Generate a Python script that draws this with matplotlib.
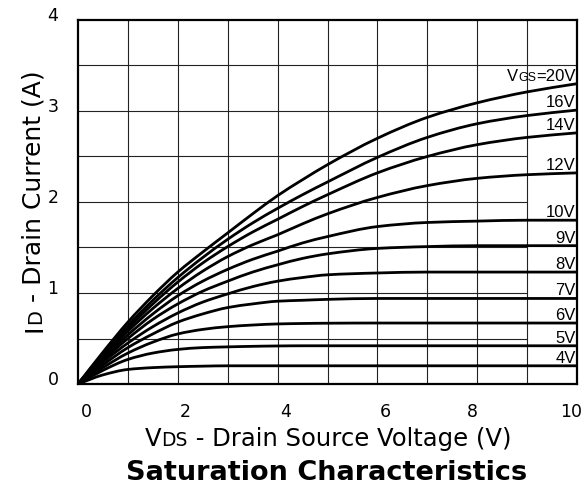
import matplotlib
matplotlib.use('Agg')
import numpy as np
import matplotlib.pyplot as plt
from matplotlib.path import Path
from matplotlib.patches import PathPatch
from matplotlib.transforms import ScaledTranslation

# ---------------- data ----------------
vds = [0, 0.5, 1, 1.5, 2, 2.5, 3, 3.5, 4, 4.5, 5, 6, 7, 8, 9, 10]
vgs_labels = ["20V", "16V", "14V", "12V", "10V", "9V", "8V", "7V", "6V", "5V", "4V"]
id_20 = [0, 0.35, 0.68, 0.97, 1.23, 1.45, 1.66, 1.87, 2.07, 2.245, 2.41, 2.70, 2.93, 3.09, 3.21, 3.30]
id_16 = [0, 0.33, 0.64, 0.92, 1.17, 1.39, 1.59, 1.77, 1.93, 2.08, 2.22, 2.49, 2.71, 2.86, 2.95, 3.01]
id_14 = [0, 0.32, 0.61, 0.88, 1.12, 1.33, 1.51, 1.67, 1.81, 1.95, 2.08, 2.32, 2.50, 2.63, 2.71, 2.76]
id_12 = [0, 0.30, 0.58, 0.83, 1.05, 1.24, 1.40, 1.53, 1.64, 1.76, 1.87, 2.05, 2.18, 2.26, 2.30, 2.32]
id_10 = [0, 0.28, 0.54, 0.77, 0.97, 1.13, 1.26, 1.37, 1.46, 1.55, 1.62, 1.73, 1.775, 1.79, 1.80, 1.80]
id_9 = [0, 0.26, 0.50, 0.71, 0.88, 1.02, 1.13, 1.23, 1.31, 1.38, 1.43, 1.49, 1.51, 1.52, 1.52, 1.52]
id_8 = [0, 0.24, 0.45, 0.63, 0.78, 0.90, 0.99, 1.07, 1.13, 1.17, 1.20, 1.22, 1.23, 1.23, 1.23, 1.23]
id_7 = [0, 0.21, 0.40, 0.55, 0.68, 0.77, 0.84, 0.88, 0.91, 0.92, 0.93, 0.94, 0.94, 0.94, 0.94, 0.94]
id_6 = [0, 0.18, 0.34, 0.46, 0.55, 0.60, 0.63, 0.648, 0.66, 0.665, 0.668, 0.67, 0.67, 0.67, 0.67, 0.67]
id_5 = [0, 0.15, 0.27, 0.34, 0.38, 0.40, 0.408, 0.414, 0.418, 0.42, 0.42, 0.42, 0.42, 0.42, 0.42, 0.42]
id_4 = [0, 0.10, 0.16, 0.18, 0.19, 0.196, 0.20, 0.20, 0.20, 0.20, 0.20, 0.20, 0.20, 0.20, 0.20, 0.20]
curves = [id_20, id_16, id_14, id_12, id_10, id_9, id_8, id_7, id_6, id_5, id_4]

x_ticks = [0, 2, 4, 6, 8, 10]
y_ticks = [0, 1, 2, 3, 4]
x_grid = [1, 2, 3, 4, 5, 6, 7, 8, 9]
y_grid_short = [0.5, 1.0, 1.5, 2.0, 2.5, 3.0]
y_grid_full = [3.5]

# ---------------- figure ----------------
plt.rcParams['font.family'] = ['DejaVu Sans']
W, H = 584, 488
fig = plt.figure(figsize=(W / 100, H / 100), dpi=100)
ax = fig.add_axes([78 / W, 1 - 384 / H, (577 - 78) / W, (384 - 20) / H])
ax.set_xlim(0, 10)
ax.set_ylim(0, 4)

gc = '#222222'
for xv in x_grid:
    ax.axvline(xv, color=gc, lw=0.8, zorder=1)
for yv in y_grid_short:
    ax.hlines(yv, 0, 9, color=gc, lw=0.8, zorder=1)
for yv in y_grid_full:
    ax.axhline(yv, color=gc, lw=0.8, zorder=1)


def smooth_path(xs, ys):
    """Monotone (PCHIP-like) cubic Bezier path through the read points."""
    x = np.asarray(xs, float)
    y = np.asarray(ys, float)
    n = len(x)
    h = np.diff(x)
    d = np.diff(y) / h
    m = np.zeros(n)
    for k in range(1, n - 1):
        if d[k - 1] * d[k] > 0:
            w1 = 2 * h[k] + h[k - 1]
            w2 = h[k] + 2 * h[k - 1]
            m[k] = (w1 + w2) / (w1 / d[k - 1] + w2 / d[k])
    m[0] = d[0]
    m[-1] = d[-1]
    verts = [(x[0], y[0])]
    codes = [Path.MOVETO]
    for k in range(n - 1):
        verts += [(x[k] + h[k] / 3, y[k] + m[k] * h[k] / 3),
                  (x[k + 1] - h[k] / 3, y[k + 1] - m[k + 1] * h[k] / 3),
                  (x[k + 1], y[k + 1])]
        codes += [Path.CURVE4] * 3
    return Path(verts, codes)


for ys in curves:
    ax.add_patch(PathPatch(smooth_path(vds, ys), fill=False, edgecolor='black',
                           lw=2.0, joinstyle='round', capstyle='butt', zorder=3))

for sp in ax.spines.values():
    sp.set_linewidth(1.6)
    sp.set_color('black')
    sp.set_zorder(5)

ax.set_xticks(x_ticks)
ax.set_yticks(y_ticks)
ax.tick_params(length=0, labelsize=12.5)
ax.tick_params(axis='x', pad=14)
ax.tick_params(axis='y', pad=14)
ax.set_xticklabels([str(v) for v in x_ticks])
ax.set_yticklabels([str(v) for v in y_ticks])
for lab in ax.get_yticklabels():
    lab.set_transform(lab.get_transform() + ScaledTranslation(0, 0.06, fig.dpi_scale_trans))
x_shift_in = [0.08, 0.07, 0.08, 0.08, -0.05, -0.06]
for lab, dx in zip(ax.get_xticklabels(), x_shift_in):
    lab.set_transform(lab.get_transform() + ScaledTranslation(dx, 0, fig.dpi_scale_trans))

# curve labels
lab_font = dict(family=['Liberation Sans', 'DejaVu Sans'], fontsize=12)
off = ScaledTranslation(-0.015, 0.03, fig.dpi_scale_trans)
for i, (lab, ys) in enumerate(zip(vgs_labels, curves)):
    if i == 0:
        continue
    ax.text(vds[-1], ys[-1], lab, ha='right', va='baseline',
            transform=ax.transData + off, zorder=4, **lab_font)

renderer = fig.canvas.get_renderer()


def rich_text(pieces, x_px, y_px, rotation=0, align='center', family=None):
    texts, widths = [], []
    for s, size, weight in pieces:
        kw = {}
        if family is not None:
            kw['family'] = family
        t = fig.text(0, 0, s, fontsize=size, fontweight=weight, rotation=rotation,
                     ha='left', va='baseline', rotation_mode='anchor', **kw)
        bb = t.get_window_extent(renderer)
        texts.append(t)
        widths.append(bb.width if rotation == 0 else bb.height)
    total = sum(widths)
    if align == 'center':
        pos = (x_px if rotation == 0 else y_px) - total / 2
    else:  # right
        pos = (x_px if rotation == 0 else y_px) - total
    for t, w in zip(texts, widths):
        if rotation == 0:
            t.set_position((pos / W, y_px / H))
        else:
            t.set_position((x_px / W, pos / H))
        pos += w


# VGS=20V label (small "GS")
y20_disp = ax.transData.transform((vds[-1], id_20[-1]))
rich_text([("V", 12, 'normal'), ("GS", 9, 'normal'), ("=20V", 12, 'normal')],
          y20_disp[0] - 1.5, y20_disp[1] + 3, align='right',
          family=['Liberation Sans', 'DejaVu Sans'])

# axis labels
rich_text([("V", 17.5, 'normal'), ("DS", 13.5, 'normal'),
           (" - Drain Source Voltage (V)", 17.5, 'normal')], 328, H - 446)
rich_text([("I", 18, 'normal'), ("D", 14, 'normal'),
           (" - Drain Current (A)", 18, 'normal')], 41, H - 201, rotation=90)

# title
fig.text(327 / W, 1 - 480 / H, "Saturation Characteristics", ha='center', va='baseline',
         fontsize=19.5, fontweight='bold')

fig.savefig('out.png', dpi=100, facecolor='white')
